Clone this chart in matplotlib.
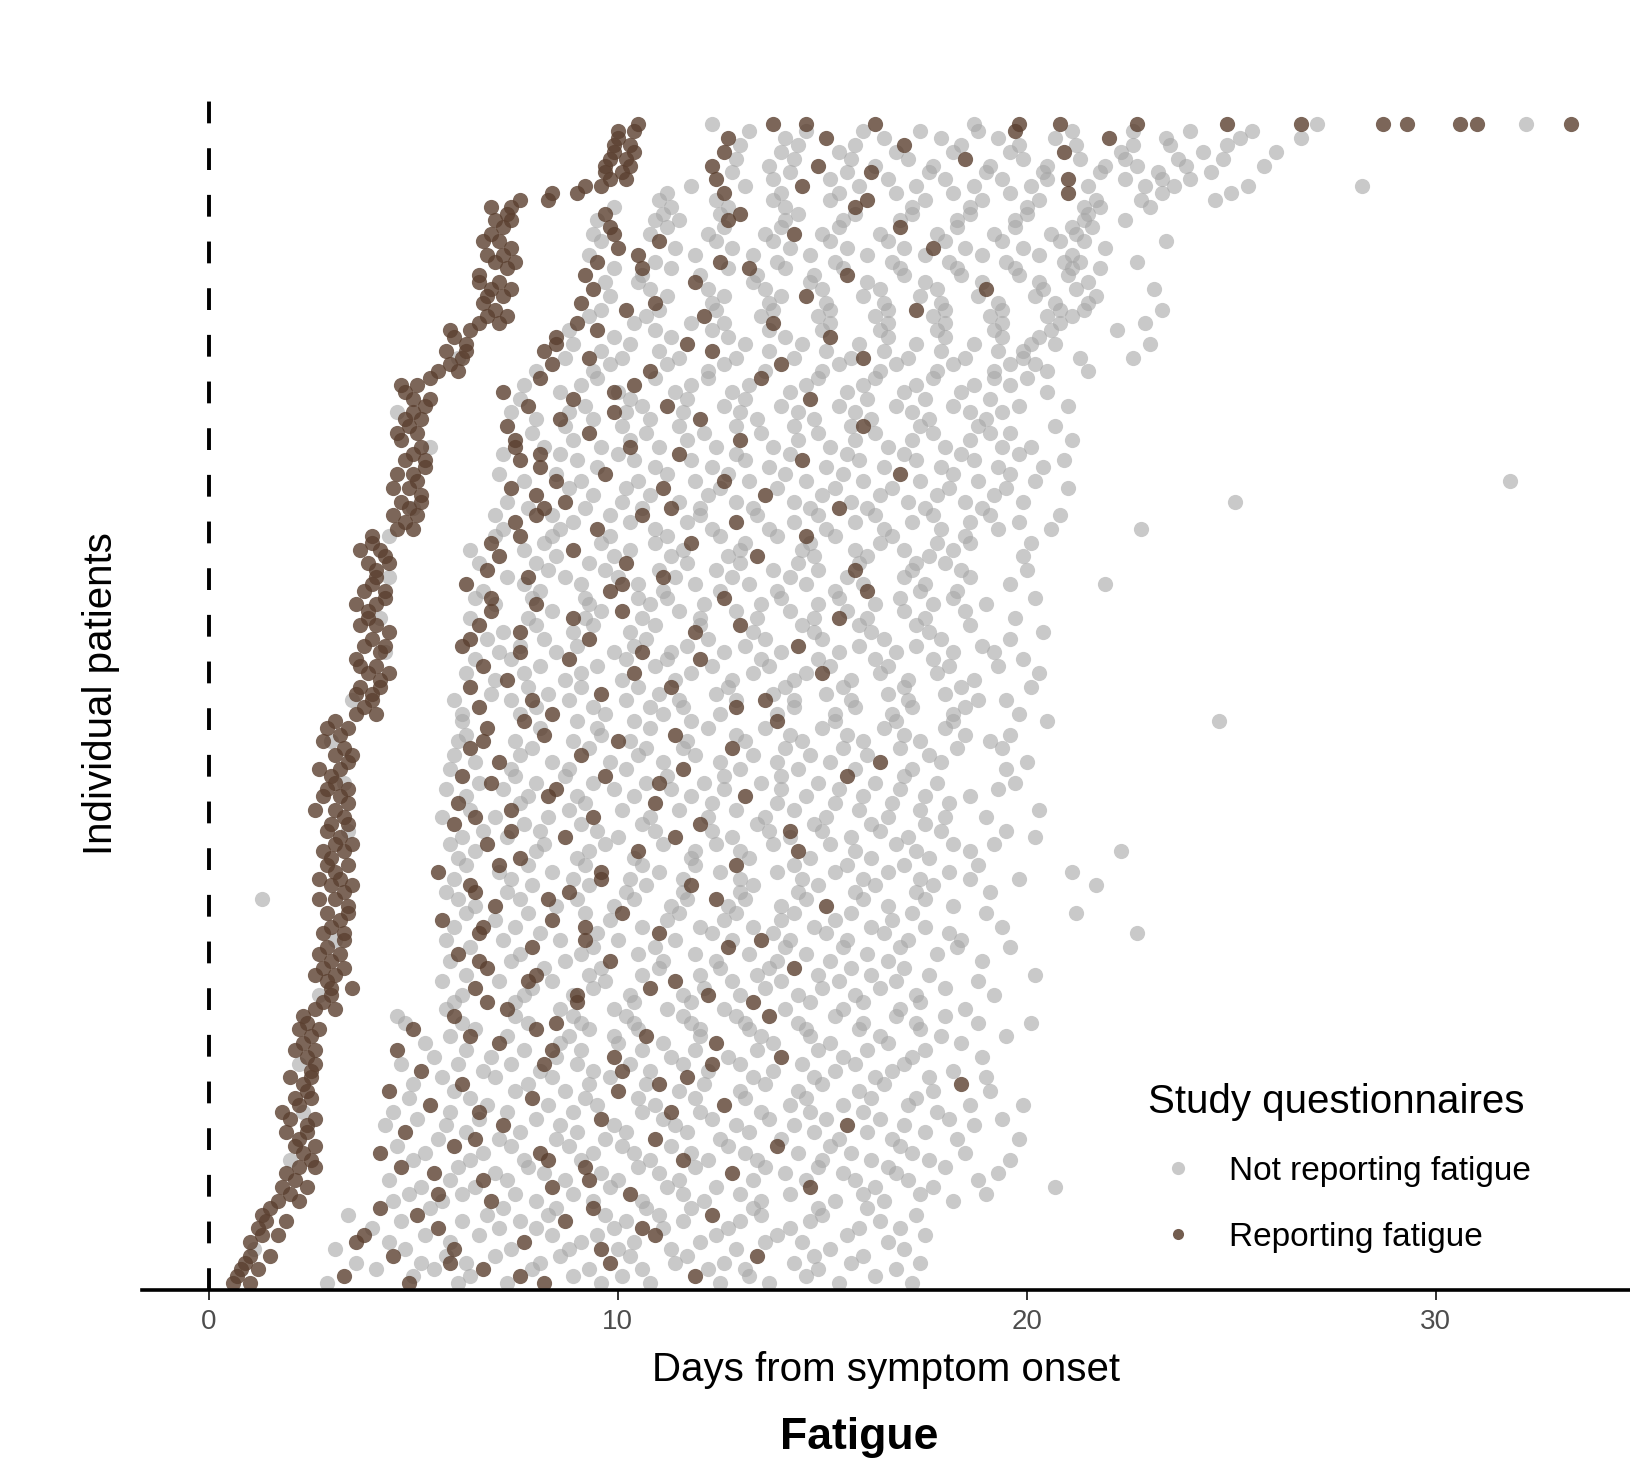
import matplotlib
matplotlib.use("Agg")
import matplotlib.pyplot as plt
from matplotlib.lines import Line2D

plt.rcParams['font.family'] = ['Liberation Sans', 'DejaVu Sans']

# One entry per patient, bottom to top (patients sorted by first questionnaire).
# Questionnaire days (from symptom onset) where fatigue was reported ...
fatigue_days = [
    [0.6, 1.0, 4.9, 8.2], [0.7, 3.3, 7.6, 11.9], [0.8, 1.2, 6.7], [0.9, 5.9, 9.8],
    [1.0, 1.5, 4.5, 13.4], [6.0, 9.6], [1.0, 3.6, 7.7], [1.3, 1.7, 3.8, 10.9],
    [1.2, 5.6, 10.6], [1.4, 1.9, 8.7], [1.3, 5.1, 12.3], [1.5, 4.2, 9.4],
    [1.7, 2.2, 6.9], [2.0, 5.6, 10.3], [1.8, 2.4, 8.4, 14.7], [2.1, 6.7, 9.3],
    [1.9, 5.5, 12.8], [2.2, 2.6, 4.7, 9.2], [2.5, 8.3, 11.6], [2.3, 4.2, 8.1],
    [2.1, 2.6, 6.0, 13.9], [2.2, 6.5, 10.9], [1.9, 2.4, 4.8], [2.4, 7.2, 15.6],
    [2.0, 2.6, 9.6], [1.8, 6.6, 11.3], [2.2, 5.4, 12.6], [2.1, 2.5, 7.9],
    [2.4, 4.4, 10.0], [2.3, 6.2, 11.0, 18.4], [2.0, 2.5, 11.7], [2.5, 5.2, 10.1],
    [2.6, 8.2, 12.3], [2.4, 9.9, 14.0], [2.1, 2.6, 4.6, 8.4], [2.3, 7.1, 12.4],
    [2.5, 6.4, 10.7], [2.2, 2.7, 5.0, 8.0], [2.4, 8.5], [2.3, 6.0, 13.7],
    [2.6, 3.1, 7.3], [2.8, 6.8, 9.0, 13.3], [3.0, 9.0, 12.2], [3.0, 3.5, 6.5, 10.8],
    [2.9, 7.8, 11.4], [3.1, 2.6, 8.0], [2.8, 3.3, 6.8, 14.3], [3.0, 6.6, 9.8],
    [3.2, 2.7, 6.1], [2.9, 7.9, 12.7], [3.3, 9.2, 13.5], [3.3, 2.8, 6.6, 11.0],
    [3.0, 6.7, 9.2], [3.2, 5.7, 8.4], [2.9, 3.4, 10.1], [3.4, 7.0, 15.1],
    [3.1, 2.7, 8.3, 12.4], [3.3, 6.5, 8.8], [3.0, 3.5, 6.4, 11.8], [3.2, 2.7, 9.6],
    [3.1, 5.6, 9.6], [3.4, 2.9, 7.1, 12.9], [3.0, 7.6], [3.3, 2.8, 10.5, 14.4],
    [3.1, 3.5, 6.8], [3.2, 8.7, 11.4], [2.9, 7.4, 14.2], [3.0, 3.4, 6.0, 12.0],
    [3.3, 6.5, 9.4], [3.1, 2.6, 7.4], [3.4, 6.1, 10.9], [3.2, 2.8, 8.3, 13.1],
    [2.9, 3.4, 8.5], [3.1, 6.9, 11.0], [3.0, 6.2, 9.7, 15.6], [3.2, 2.7, 11.6],
    [3.4, 7.1, 16.4], [3.1, 3.5, 9.1], [3.3, 6.4, 12.8], [2.8, 6.7, 10.0],
    [3.2, 8.2, 11.4], [3.4, 2.9, 6.8], [3.1, 7.7, 13.9],
    [3.6, 4.1, 8.4], [3.8, 6.6, 12.9], [4.0, 7.9, 13.6], [4.0, 3.6, 9.6],
    [3.7, 4.2, 6.4, 11.3], [4.2, 7.3], [3.9, 4.4, 10.4, 15.0], [4.1, 3.7, 6.7],
    [3.6, 8.8, 12.0], [4.2, 7.6, 10.6], [3.8, 4.3, 6.2, 14.4], [4.0, 6.4, 9.3],
    [4.4, 7.6, 11.9], [3.7, 4.1, 6.6, 13.0], [3.9, 8.9, 15.4], [3.9, 6.9, 10.1],
    [4.1, 3.6, 8.0], [4.3, 6.9, 12.6], [3.8, 4.3, 9.8, 16.1], [4.0, 6.3, 10.1],
    [4.1, 7.8, 11.1], [4.1, 6.8, 15.8], [3.9, 4.4, 10.2], [4.3, 7.1, 13.4],
    [4.2, 3.7, 8.9], [4.0, 6.9, 11.8], [4.0, 7.6, 14.6],
    [4.6, 5.0, 9.5], [4.8, 7.5, 12.9], [4.5, 5.1, 8.0, 10.6], [4.9, 8.2, 11.3, 15.4],
    [4.7, 5.2, 8.7], [5.2, 8.0, 13.6], [4.9, 4.5, 7.4, 11.1], [5.1, 8.5, 12.6],
    [4.6, 5.0, 9.7, 16.9], [5.3, 8.1], [4.8, 5.3, 7.6, 14.5], [5.0, 8.1, 11.5],
    [5.2, 7.5, 10.3], [4.7, 7.5, 13.0], [5.1, 4.6, 9.3], [4.9, 7.3, 16.0],
    [5.2, 4.8, 8.6, 12.0], [5.0, 9.9], [5.3, 7.8, 11.2], [5.0, 5.4, 8.9, 14.7],
    [4.8, 7.2, 9.9], [5.1, 4.7, 10.4], [5.4, 8.1, 13.5],
    [5.6, 6.1, 10.8], [5.9, 8.4, 14.0], [6.2, 9.3, 16.0], [5.8, 6.3, 8.2, 12.3],
    [6.3, 8.5, 11.7], [6.0, 8.5, 15.2], [6.4, 5.9, 9.5],
    [6.6, 7.1, 9.0, 13.8], [6.8, 7.3, 12.1], [7.0, 10.2, 17.3], [6.7, 9.1, 10.9],
    [7.2, 6.8, 14.6], [6.9, 7.4, 9.4, 19.0], [7.1, 6.6, 11.9], [6.6, 9.2, 15.6],
    [7.3, 10.6, 13.2], [7.0, 7.5, 9.5, 12.5], [6.8, 7.2, 10.5], [7.4, 10.0, 17.7],
    [7.1, 6.7, 11.0], [6.9, 9.9, 14.3], [7.2, 9.8, 16.9], [7.0, 7.4, 12.7],
    [7.3, 9.7, 13.0], [7.4, 6.9, 15.8],
    [7.6, 8.3, 16.1], [8.4, 9.0, 12.6, 21.0], [9.2, 9.6, 14.5],
    [9.8, 10.2, 12.4, 21.0], [10.1, 9.7, 16.2], [9.7, 10.3, 12.3, 14.9], [10.2, 9.8, 18.5],
    [9.9, 10.4, 12.6, 20.9], [10.3, 9.9, 17.0], [10.0, 12.7, 15.1, 22.0], [10.4, 10.0, 19.7],
    [10.5, 13.8, 14.6, 16.3, 19.8, 20.8, 22.7, 24.9, 26.7, 28.7, 29.3, 30.6, 31.0, 33.3],
]

# ... and where it was not reported (same patient order)
clear_days = [
    [2.9, 6.1, 7.3, 9.6, 10.8, 12.5, 13.7, 15.4, 17.2],
    [5.0, 6.4, 8.9, 10.1, 13.2, 14.6, 16.3],
    [4.1, 5.5, 7.9, 9.3, 10.6, 12.2, 13.1, 14.9, 16.8],
    [3.6, 5.2, 6.3, 8.1, 11.4, 12.6, 14.3, 15.7, 17.4],
    [5.8, 7.0, 8.6, 10.3, 11.7, 14.8, 16.0],
    [1.1, 3.1, 4.8, 7.4, 8.8, 10.0, 11.3, 12.9, 15.2, 17.0],
    [4.4, 5.9, 9.1, 10.4, 12.0, 13.6, 14.5, 16.6],
    [5.3, 6.6, 8.4, 9.5, 12.4, 13.9, 15.6, 17.5],
    [4.0, 7.1, 8.0, 9.9, 11.1, 12.7, 14.2, 15.9, 16.9],
    [4.7, 6.2, 7.6, 10.2, 11.6, 13.0, 14.7, 16.4],
    [3.4, 6.8, 8.3, 9.7, 11.0, 13.5, 15.0, 17.3],
    [5.4, 7.2, 8.5, 10.7, 11.8, 13.3, 14.9, 16.1],
    [4.5, 5.7, 8.0, 9.4, 10.6, 12.1, 13.5, 15.3, 16.5, 18.2],
    [4.9, 6.2, 7.5, 8.9, 11.6, 13.0, 14.2, 16.0, 17.4, 19.0],
    [5.2, 6.5, 9.8, 11.2, 12.4, 16.3, 17.7, 20.7],
    [4.4, 5.9, 7.3, 8.7, 10.0, 11.5, 13.3, 14.6, 15.8, 17.1, 18.8],
    [7.0, 8.2, 9.6, 11.0, 14.1, 15.5, 16.8, 19.3],
    [6.1, 7.8, 10.5, 11.9, 13.6, 14.9, 16.6, 18.0],
    [2.0, 5.0, 6.4, 7.7, 9.1, 10.8, 12.2, 13.4, 15.0, 16.2, 17.6, 19.6],
    [5.3, 6.7, 9.4, 10.4, 11.8, 13.1, 14.4, 15.7, 17.2, 18.5],
    [4.6, 7.4, 8.8, 10.1, 11.3, 12.7, 15.2, 16.9],
    [5.6, 7.1, 8.5, 9.7, 12.5, 14.0, 15.4, 16.7, 18.3, 19.8],
    [6.3, 7.6, 9.0, 10.2, 11.7, 13.2, 14.8, 16.1, 17.5],
    [4.3, 5.8, 8.6, 9.9, 11.4, 12.9, 14.3, 17.0, 18.7],
    [5.1, 6.6, 8.0, 11.1, 12.3, 13.7, 15.1, 16.4, 18.1, 19.4],
    [2.3, 4.5, 5.9, 7.3, 8.9, 10.6, 12.0, 13.5, 14.7, 16.0, 17.8],
    [6.8, 8.3, 9.5, 10.9, 14.2, 15.5, 17.1, 18.6, 19.9],
    [4.9, 6.4, 9.2, 10.5, 11.9, 13.1, 14.6, 16.2, 17.3],
    [6.0, 7.5, 8.7, 11.5, 13.0, 14.4, 15.9, 17.7, 19.1],
    [5.0, 7.8, 9.3, 10.7, 12.1, 13.6, 15.0, 16.5],
    [5.7, 7.0, 8.4, 9.8, 13.3, 14.8, 16.3, 17.6, 19.0],
    [6.7, 8.1, 9.4, 10.8, 12.2, 13.8, 15.3, 16.7, 18.2],
    [2.2, 4.7, 6.1, 7.4, 9.0, 10.3, 11.6, 13.0, 14.5, 15.8, 17.0],
    [5.5, 6.9, 8.5, 11.3, 12.7, 15.5, 17.2, 18.9],
    [6.3, 7.7, 9.1, 10.6, 11.9, 13.4, 14.9, 16.1, 17.5],
    [5.3, 8.6, 10.0, 11.1, 13.8, 15.2, 16.6, 18.4],
    [5.9, 7.3, 8.8, 9.9, 12.0, 13.5, 14.7, 16.4, 17.9, 19.5],
    [6.5, 9.3, 10.5, 12.0, 13.2, 14.6, 15.9, 17.4],
    [4.8, 6.2, 7.8, 9.1, 10.4, 11.8, 13.1, 14.4, 16.0, 17.3, 18.8, 20.1],
    [4.6, 7.5, 8.9, 10.2, 11.6, 12.9, 15.3, 16.8, 18.0],
    [5.8, 8.6, 9.9, 11.2, 12.6, 14.1, 15.5, 16.9, 18.5],
    [6.0, 7.5, 10.4, 11.8, 14.7, 16.0, 17.4],
    [2.7, 6.2, 7.7, 8.9, 10.3, 11.6, 13.0, 14.4, 15.8, 17.3, 19.2],
    [7.9, 9.4, 12.1, 13.6, 15.0, 16.4, 18.0],
    [5.7, 7.1, 8.4, 9.7, 12.8, 14.0, 15.4, 16.8, 18.8],
    [6.3, 9.3, 10.6, 12.0, 13.4, 14.9, 16.2, 17.6, 20.2],
    [8.2, 9.6, 11.0, 12.5, 13.7, 15.7, 17.0],
    [5.9, 7.4, 8.7, 11.1, 12.4, 13.9, 15.2, 16.6, 18.9],
    [7.6, 9.1, 10.5, 11.9, 13.2, 14.6, 16.1, 17.8],
    [6.4, 9.4, 10.9, 14.1, 15.5, 16.9, 18.3, 19.6],
    [3.1, 5.8, 7.2, 8.6, 10.0, 11.4, 12.8, 14.2, 15.6, 17.1, 18.4],
    [8.1, 9.5, 12.3, 13.8, 15.1, 16.5, 18.1, 22.7],
    [6.0, 7.5, 10.6, 12.0, 13.3, 14.8, 16.2, 17.5, 19.4],
    [7.0, 9.8, 11.2, 12.6, 14.0, 15.3, 16.7],
    [6.3, 7.8, 9.2, 11.5, 12.9, 14.3, 15.7, 17.2, 19.0, 21.2],
    [6.5, 8.5, 9.9, 11.3, 12.7, 14.0, 16.6, 18.2],
    [1.3, 6.1, 7.6, 9.0, 10.4, 11.7, 13.1, 14.6, 16.0, 17.5],
    [5.8, 7.3, 10.2, 11.6, 13.0, 14.4, 15.8, 17.3, 19.1],
    [7.9, 9.3, 10.7, 13.3, 14.9, 16.3, 17.7, 21.7],
    [6.0, 7.4, 8.9, 10.3, 11.6, 13.0, 14.5, 16.0, 17.4, 18.6, 19.8],
    [7.1, 8.4, 11.0, 12.5, 13.9, 15.3, 16.6, 18.1, 21.1],
    [6.3, 7.8, 9.2, 10.6, 11.9, 14.3, 15.6, 17.0, 18.8],
    [6.1, 9.0, 10.4, 11.8, 13.2, 14.7, 16.2, 17.6],
    [6.5, 8.0, 9.3, 11.9, 13.0, 15.8, 17.3, 18.6, 22.3],
    [5.9, 8.2, 9.7, 11.1, 12.4, 13.8, 15.2, 16.8, 18.2, 19.2],
    [6.2, 7.3, 10.0, 12.8, 14.2, 15.7, 17.1, 20.2],
    [3.4, 6.7, 8.1, 9.5, 10.9, 12.3, 13.7, 15.0, 16.4, 17.9, 19.5],
    [7.7, 9.1, 10.6, 13.4, 14.8, 16.2, 17.5],
    [5.7, 7.0, 8.3, 10.8, 12.2, 13.6, 15.1, 16.6, 18.0, 19.0],
    [6.4, 8.8, 10.1, 11.5, 12.9, 14.3, 15.9, 17.4, 20.3],
    [7.6, 9.2, 12.3, 13.9, 15.3, 16.7, 18.1],
    [6.3, 7.8, 9.0, 10.4, 11.8, 14.6, 16.0, 17.5, 18.6],
    [5.8, 7.2, 9.9, 11.3, 12.6, 14.0, 15.4, 16.9, 19.3],
    [3.3, 6.6, 8.0, 9.4, 10.7, 12.1, 13.5, 14.9, 16.3, 17.8, 19.7],
    [7.5, 8.7, 11.2, 12.6, 14.0, 17.0],
    [5.9, 7.4, 8.8, 10.2, 13.0, 14.4, 15.8, 17.2, 19.5],
    [6.5, 8.4, 9.8, 11.1, 12.5, 13.9, 15.2, 17.9, 20.0],
    [6.0, 7.6, 10.5, 11.9, 13.3, 14.7, 16.1, 17.6],
    [7.9, 9.3, 10.7, 11.6, 14.1, 15.5, 16.9, 18.3, 19.4],
    [3.0, 6.1, 7.5, 8.9, 10.3, 11.7, 13.1, 14.5, 16.0, 17.4, 19.1],
    [6.3, 9.6, 12.9, 14.2, 15.6, 17.0, 18.5, 19.6],
    [8.1, 9.5, 10.8, 12.2, 13.6, 15.0, 16.5, 18.0],
    [6.2, 9.0, 10.4, 11.8, 15.3, 16.8, 18.2, 20.5, 24.7],
    [6.2, 7.6, 9.7, 11.1, 12.5, 13.9, 15.3, 16.7, 18.2, 19.8],
    [8.0, 9.4, 10.8, 11.6, 14.3, 15.8, 17.2, 18.5],
    [3.5, 6.0, 7.4, 8.8, 10.2, 11.5, 12.9, 14.3, 15.7, 17.1, 18.8, 19.5],
    [6.9, 8.3, 11.0, 12.4, 13.8, 15.1, 16.6, 18.0],
    [7.8, 9.1, 10.5, 12.7, 14.1, 15.5, 17.0, 18.4, 20.1],
    [7.0, 8.7, 10.1, 11.4, 12.8, 14.3, 15.7, 17.1, 18.7],
    [6.3, 7.7, 9.1, 11.8, 13.3, 14.6, 16.4, 17.8, 20.3],
    [8.1, 9.5, 10.9, 12.3, 13.7, 15.2, 16.6, 18.1, 19.3],
    [6.5, 7.4, 10.2, 11.2, 13.5, 14.9, 16.3, 17.7, 19.9],
    [4.3, 7.1, 8.5, 9.9, 11.3, 12.6, 14.0, 15.4, 16.8, 18.2, 19.2],
    [7.6, 9.0, 10.4, 11.7, 13.1, 15.9, 17.3, 18.9],
    [6.8, 8.2, 10.7, 12.2, 13.6, 15.0, 16.5, 17.9, 19.6],
    [7.2, 8.9, 10.3, 13.3, 14.8, 16.2, 17.6, 20.4],
    [8.0, 9.4, 10.9, 12.0, 14.5, 15.9, 17.3, 18.6],
    [4.2, 6.4, 7.8, 9.2, 10.6, 12.0, 13.4, 14.8, 16.1, 17.5, 19.7],
    [8.4, 9.6, 11.5, 12.9, 14.2, 15.6, 17.0, 18.5],
    [7.0, 9.3, 10.8, 12.1, 13.5, 14.9, 16.3, 17.7, 19.0],
    [6.5, 7.9, 9.2, 10.5, 11.2, 14.0, 15.4, 16.9, 18.2, 20.2],
    [6.7, 8.1, 11.1, 12.5, 13.9, 15.3, 17.4, 18.3],
    [7.7, 9.1, 10.5, 11.9, 13.2, 14.6, 16.0, 17.5, 19.6, 21.9],
    [4.4, 7.3, 8.7, 10.0, 11.4, 12.8, 14.2, 15.6, 17.0, 18.6],
    [8.3, 9.7, 11.0, 12.4, 13.8, 14.9, 17.2, 18.4, 20.0],
    [6.6, 8.0, 9.3, 11.7, 13.0, 14.4, 15.9, 17.3, 18.0],
    [8.5, 9.9, 11.3, 12.7, 14.8, 16.1, 17.6, 19.9],
    [6.4, 7.7, 10.3, 11.6, 13.0, 14.5, 15.8, 17.0, 18.2],
    [8.2, 9.6, 10.9, 13.1, 14.7, 16.4, 17.8, 18.6, 20.1],
    [4.4, 7.0, 8.4, 9.8, 11.2, 12.5, 13.9, 15.3, 16.7, 18.5],
    [7.2, 8.6, 10.9, 12.3, 13.7, 15.1, 16.5, 17.9, 19.3, 20.6, 22.8],
    [8.9, 10.3, 11.7, 14.3, 15.8, 17.2, 18.6, 19.8],
    [7.0, 8.4, 9.8, 12.0, 13.4, 14.9, 16.3, 17.7, 19.1, 20.8],
    [5.0, 7.8, 9.2, 10.6, 12.0, 13.3, 14.7, 16.1, 17.5, 18.9],
    [7.3, 10.1, 11.5, 12.9, 14.3, 15.7, 17.1, 18.5, 19.9, 25.1],
    [9.4, 10.8, 12.2, 15.0, 16.4, 17.8, 19.2],
    [8.8, 10.2, 12.5, 13.9, 15.3, 16.7, 18.1, 19.5, 21.0],
    [7.7, 9.1, 10.5, 11.9, 13.2, 14.6, 16.0, 17.4, 18.8, 20.2, 31.8],
    [7.1, 8.5, 11.2, 12.7, 14.1, 15.5, 18.2, 19.6],
    [9.5, 10.9, 12.3, 13.7, 15.1, 16.5, 17.9, 19.3, 20.4],
    [9.0, 10.4, 11.8, 13.1, 15.9, 17.3, 18.7, 20.9],
    [7.2, 8.6, 10.0, 12.9, 14.2, 15.6, 17.0, 18.4, 19.8],
    [5.4, 8.2, 9.6, 11.0, 12.4, 13.8, 15.2, 16.6, 18.0, 19.4, 20.1],
    [8.9, 10.3, 11.7, 14.4, 15.8, 17.2, 18.6, 21.1],
    [7.9, 10.7, 12.1, 13.5, 14.9, 16.3, 17.7, 19.1, 19.6],
    [8.7, 10.1, 11.5, 12.9, 14.3, 15.7, 17.4, 18.8, 20.7],
    [8.0, 9.4, 10.8, 13.4, 14.8, 16.2, 17.6, 19.0],
    [4.6, 7.4, 8.8, 10.2, 11.6, 13.0, 14.4, 15.8, 17.2, 18.6, 19.4],
    [9.2, 10.6, 12.6, 14.0, 15.4, 16.8, 18.2, 19.8, 21.0],
    [7.6, 10.3, 11.7, 13.1, 16.1, 17.5, 19.1],
    [8.6, 10.0, 11.4, 12.8, 14.2, 15.6, 17.0, 18.4, 20.5],
    [7.7, 9.1, 11.8, 13.2, 14.6, 16.0, 17.3, 18.7, 19.6],
    [9.5, 10.9, 12.2, 14.9, 16.3, 17.7, 19.2, 20.0],
    [8.0, 9.4, 12.2, 13.6, 15.0, 16.4, 17.8, 19.2, 20.5, 21.5],
    [9.8, 11.2, 12.6, 15.4, 16.8, 18.2, 19.6, 20.2],
    [6.1, 8.7, 10.1, 11.5, 12.9, 14.3, 15.7, 17.1, 18.5, 19.9, 21.3, 22.6],
    [9.6, 11.0, 13.7, 15.1, 16.5, 17.9, 19.3, 19.9],
    [8.9, 10.3, 13.1, 14.5, 15.9, 17.3, 18.7, 20.1, 20.7, 23.0],
    [9.9, 11.3, 12.7, 14.1, 16.6, 18.0, 19.4, 20.3],
    [8.8, 10.9, 12.3, 13.7, 15.0, 16.4, 17.8, 19.2, 20.6, 22.2],
    [10.4, 11.8, 12.6, 15.2, 16.6, 18.0, 19.4, 20.8, 22.9],
    [9.3, 10.7, 13.5, 14.9, 16.3, 17.7, 19.1, 20.5, 21.1],
    [9.6, 11.0, 12.4, 13.8, 15.2, 16.6, 18.0, 19.4, 20.8, 21.4, 23.3],
    [12.3, 13.7, 15.1, 16.5, 17.9, 19.3, 20.7, 21.5],
    [9.8, 11.2, 12.6, 14.0, 16.0, 17.4, 18.8, 20.2, 21.7],
    [10.8, 12.2, 13.6, 15.0, 16.4, 17.8, 20.4, 21.2, 23.1],
    [9.7, 10.5, 13.3, 14.7, 16.1, 17.5, 18.9, 20.3, 21.5],
    [10.6, 12.0, 13.4, 14.8, 17.0, 18.4, 19.8, 21.0],
    [9.9, 11.3, 12.7, 14.1, 15.5, 16.9, 18.3, 19.7, 21.1, 21.8],
    [10.9, 13.9, 15.3, 16.7, 18.1, 19.5, 20.9, 21.3, 22.7],
    [9.3, 11.9, 13.3, 14.7, 16.1, 17.5, 18.9, 20.3, 21.1],
    [11.4, 12.8, 14.2, 15.6, 17.0, 18.5, 19.9, 21.9],
    [9.6, 12.4, 13.8, 15.2, 16.6, 18.0, 19.4, 20.8, 21.4, 23.4],
    [9.4, 10.8, 12.2, 13.6, 15.0, 16.4, 17.8, 19.2, 20.6, 21.2],
    [11.2, 12.6, 14.0, 15.4, 18.3, 19.7, 21.1, 21.6],
    [9.5, 10.9, 11.5, 14.1, 15.5, 16.9, 18.3, 19.7, 21.4, 22.4],
    [11.1, 12.5, 14.4, 15.8, 17.2, 18.6, 20.0, 21.5],
    [9.9, 11.3, 12.7, 14.1, 17.2, 18.6, 20.0, 21.4, 21.8, 23.0],
    [11.0, 12.4, 13.8, 15.2, 17.5, 18.9, 20.3, 21.7, 22.8, 24.6],
    [11.2, 14.0, 15.4, 16.8, 18.2, 19.6, 23.3, 25.0],
    [11.8, 13.1, 15.9, 17.3, 18.7, 20.1, 21.5, 22.9, 23.6, 25.4, 28.2],
    [13.8, 15.2, 16.6, 18.0, 19.4, 20.5, 22.4, 23.3, 24.0],
    [12.8, 14.2, 15.6, 17.6, 19.0, 20.4, 21.8, 23.2, 24.5],
    [13.7, 16.3, 17.7, 19.1, 20.5, 21.9, 22.7, 23.9, 25.8],
    [12.9, 14.3, 15.7, 17.1, 19.9, 21.3, 22.4, 23.7, 24.8],
    [14.0, 15.4, 16.8, 18.2, 19.6, 22.3, 24.3, 26.1],
    [13.0, 14.4, 15.8, 18.4, 19.8, 21.2, 22.6, 23.5, 24.9],
    [14.1, 16.5, 17.9, 19.3, 20.7, 23.4, 25.2, 26.7],
    [13.2, 14.6, 16.0, 17.4, 18.8, 21.1, 22.6, 24.0, 25.5],
    [12.3, 18.7, 27.1, 32.2],
]

x_ticks = [0, 10, 20, 30]

# flatten into the two series, patient rank on the y axis
clear_x, clear_y, fat_x, fat_y = [], [], [], []
for rank, (f_days, c_days) in enumerate(zip(fatigue_days, clear_days), start=1):
    clear_x += c_days
    clear_y += [rank] * len(c_days)
    fat_x += f_days
    fat_y += [rank] * len(f_days)

W, H = 1631, 1476
fig = plt.figure(figsize=(W / 100, H / 100), dpi=100)
ax = fig.add_axes([142 / W, 1 - 1290 / H, 1 - 142 / W, (1290 - 97) / H])

grey_col = '#a6a6a6'
brown_col = '#5b4030'
ax.scatter(clear_x, clear_y, s=120, color=grey_col, alpha=0.6, linewidths=0, zorder=2)
ax.scatter(fat_x, fat_y, s=120, color=brown_col, alpha=0.8, linewidths=0, zorder=3)

ax.axvline(0, color='black', lw=2.8, linestyle=(0, (5.6, 6.4)), zorder=4)

ax.set_xlim(-1.63, 34.77)
ax.set_ylim(0, 174)
ax.set_xticks(x_ticks)
ax.set_xticklabels([str(t) for t in x_ticks])
ax.set_yticks([])
ax.tick_params(axis='x', length=7, width=1.4, color='#333333', labelsize=20,
               labelcolor='#4d4d4d', pad=7)
for side in ['top', 'right', 'left']:
    ax.spines[side].set_visible(False)
ax.spines['bottom'].set_linewidth(2.6)
ax.spines['bottom'].set_zorder(5)

ax.set_xlabel("Days from symptom onset", fontsize=29, labelpad=11)
ax.set_ylabel("Individual patients", fontsize=29, labelpad=16)
fig.text(0.527, 1 - 1438 / H, "Fatigue", fontsize=32, fontweight='bold',
         ha='center', va='center')

handles = [
    Line2D([], [], marker='o', linestyle='none', markersize=9.5,
           markerfacecolor=grey_col, markeredgewidth=0, alpha=0.6),
    Line2D([], [], marker='o', linestyle='none', markersize=8,
           markerfacecolor=brown_col, markeredgewidth=0, alpha=0.85),
]
leg = ax.legend(handles, ["Not reporting fatigue", "Reporting fatigue"],
                title="Study questionnaires", title_fontsize=29, fontsize=24,
                frameon=False, loc='upper left',
                bbox_to_anchor=(1131 / W, 1 - 1066 / H), bbox_transform=fig.transFigure,
                handlelength=1.8, handletextpad=0.65, labelspacing=1.05,
                alignment='left', borderpad=0)

fig.savefig("out.png", dpi=100)
